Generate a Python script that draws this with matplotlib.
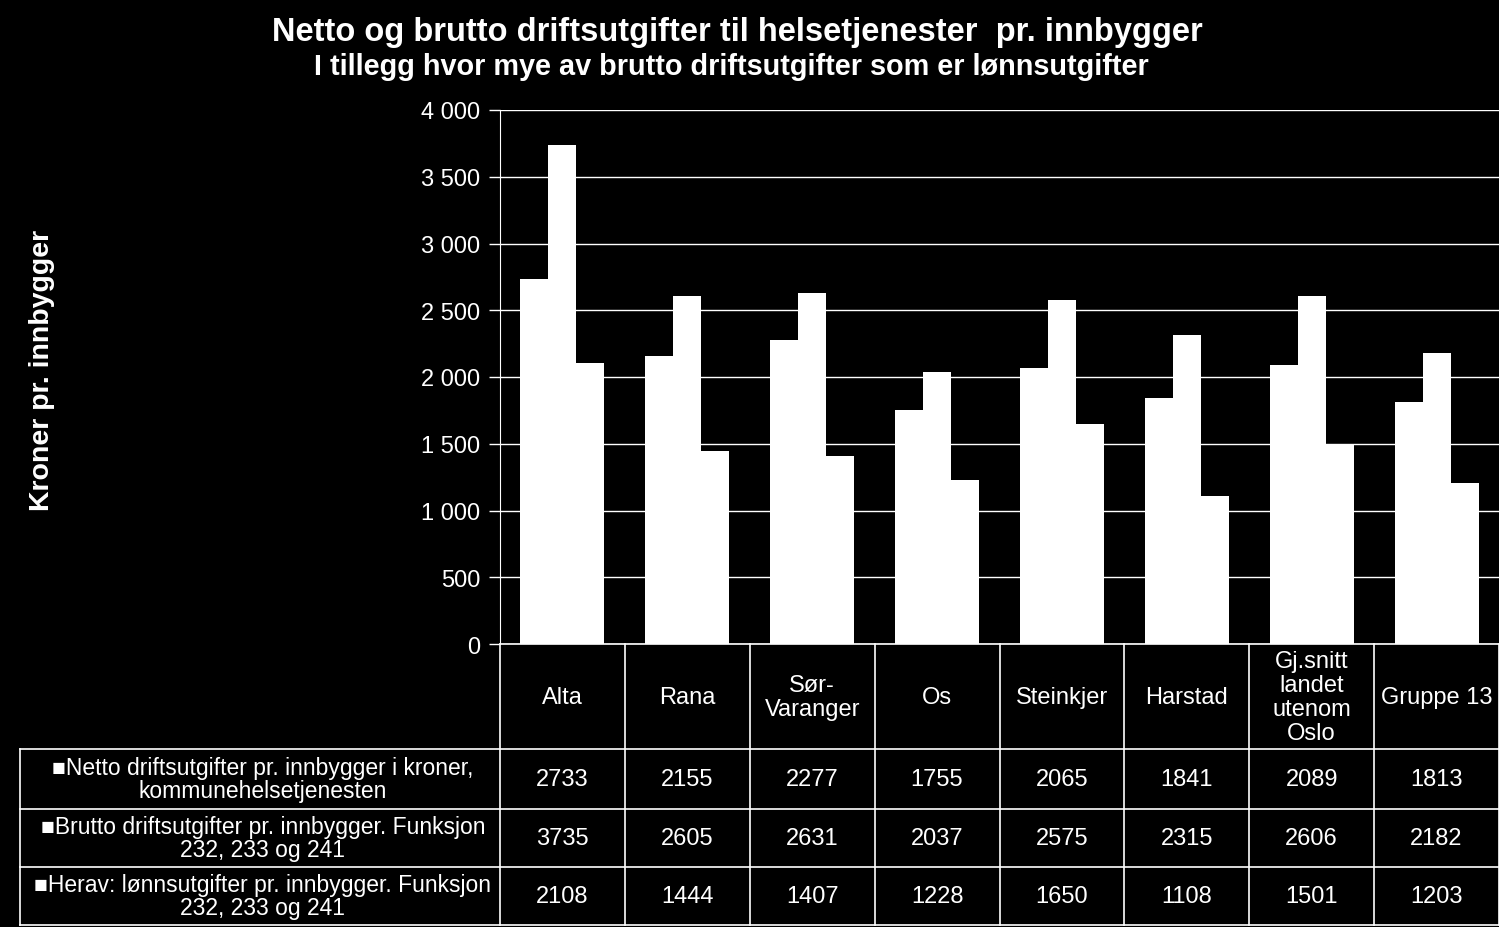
import numpy as np
import matplotlib.pyplot as plt

plt.rcParams['font.family'] = ['Liberation Sans', 'DejaVu Sans']

categories = ["Alta", "Rana", "Sør-\nVaranger", "Os", "Steinkjer", "Harstad",
              "Gj.snitt\nlandet\nutenom\nOslo", "Gruppe 13"]
series_names = ["\u25a0Netto driftsutgifter pr. innbygger i kroner,\nkommunehelsetjenesten",
                "\u25a0Brutto driftsutgifter pr. innbygger. Funksjon\n232, 233 og 241",
                "\u25a0Herav: lønnsutgifter pr. innbygger. Funksjon\n232, 233 og 241"]
netto = [2733, 2155, 2277, 1755, 2065, 1841, 2089, 1813]
brutto = [3735, 2605, 2631, 2037, 2575, 2315, 2606, 2182]
lonn = [2108, 1444, 1407, 1228, 1650, 1108, 1501, 1203]
series = [netto, brutto, lonn]

W, H = 1499, 928
fig = plt.figure(figsize=(W / 100, H / 100), dpi=100, facecolor="black")

# plot area in pixel coordinates
px_left, px_right, px_top, px_bottom = 500, 1499, 111, 645
ax = fig.add_axes([px_left / W, 1 - px_bottom / H, (px_right - px_left) / W, (px_bottom - px_top) / H])
ax.set_facecolor("black")

n = len(categories)
x = np.arange(n)
bw = 0.224
for i, vals in enumerate(series):
    ax.bar(x + (i - 1) * bw, vals, width=bw, color="white", zorder=3)

ax.set_xlim(-0.5, n - 0.5)
ax.set_ylim(0, 4000)
ax.set_yticks(np.arange(0, 4001, 500))
ax.set_yticklabels([f"{v:,}".replace(",", " ") for v in range(0, 4001, 500)])
ax.tick_params(axis="y", colors="white", labelsize=17, length=8, width=1, direction="out", pad=6)
ax.set_xticks([])
ax.yaxis.grid(True, color="white", lw=1, zorder=0)
for s in ["top", "right", "bottom"]:
    ax.spines[s].set_visible(False)
ax.spines["left"].set_color("white")

fig.text(42 / W, 1 - 370 / H, "Kroner pr. innbygger", rotation=90, color="white",
         fontsize=20.5, fontweight="bold", ha="center", va="center")

fig.text(737 / W, 1 - 32 / H, "Netto og brutto driftsutgifter til helsetjenester  pr. innbygger",
         color="white", fontsize=23.5, fontweight="bold", ha="center", va="center")
fig.text(731 / W, 1 - 67 / H, "I tillegg hvor mye av brutto driftsutgifter som er lønnsutgifter",
         color="white", fontsize=20.8, fontweight="bold", ha="center", va="center")

# data table below the plot
tb_left, tb_bottom = 20, 926
unit = (px_right - px_left) / n
tx0 = -0.5 - (px_left - tb_left) / unit
tab = fig.add_axes([tb_left / W, 1 - tb_bottom / H, (px_right - tb_left) / W, (tb_bottom - px_bottom) / H])
tab.set_xlim(tx0, n - 0.5)
tab.set_ylim(tb_bottom, px_bottom)
tab.axis("off")

row_edges = [645, 750, 810, 868, 926]
lc = dict(color="white", lw=1.2, clip_on=False)
tab.plot([-0.5, n - 0.5], [645, 645], **lc)
for y in row_edges[1:]:
    tab.plot([tx0, n - 0.5], [y, y], **lc)
tab.plot([tx0, tx0], [750, 926], **lc)
for k in range(n + 1):
    tab.plot([k - 0.5, k - 0.5], [645, 926], **lc)

for j, c in enumerate(categories):
    tab.text(j, 698, c, color="white", fontsize=17, ha="center", va="center",
             multialignment="center", linespacing=1.12)
for i, (name, vals) in enumerate(zip(series_names, series)):
    yc = (row_edges[i + 1] + row_edges[i + 2]) / 2
    tab.text((tx0 - 0.5) / 2 + 3 / unit, yc, name, color="white", fontsize=16.5, ha="center",
             va="center", multialignment="center", linespacing=1.05)
    for j, v in enumerate(vals):
        tab.text(j, yc, str(v), color="white", fontsize=17, ha="center", va="center")

fig.savefig("out.png", dpi=100, facecolor="black")
